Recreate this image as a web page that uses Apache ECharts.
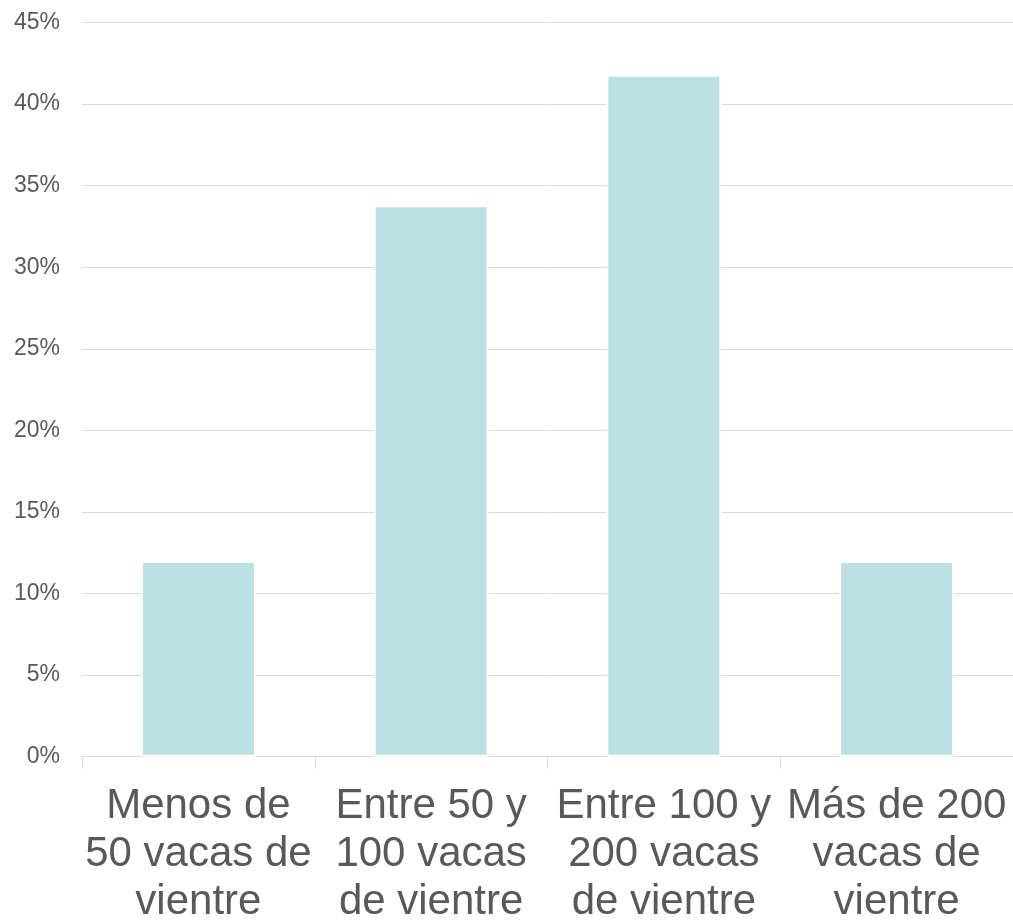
<!DOCTYPE html>
<html>
<head>
<meta charset="utf-8">
<script src="https://cdn.jsdelivr.net/npm/echarts@6/dist/echarts.min.js"></script>
<style>
html,body{margin:0;padding:0;background:#fff;}
#chart{width:1013px;height:921px;}
</style>
</head>
<body>
<div id="chart"></div>
<script>
const categories = [
  "Menos de\n50 vacas de\nvientre",
  "Entre 50 y\n100 vacas\nde vientre",
  "Entre 100 y\n200 vacas\nde vientre",
  "Más de 200\nvacas de\nvientre"
];
const values = [12.0, 33.8, 41.8, 12.0];
const yTicks = { min: 0, max: 45, interval: 5 };

const chart = echarts.init(document.getElementById('chart'), null, { renderer: 'canvas' });
chart.setOption({
  animation: false,
  textStyle: { fontFamily: '"Liberation Sans", Arial, sans-serif' },
  grid: { left: 82, right: 0, top: 22.5, bottom: 164.3, containLabel: false, outerBoundsMode: 'none' },
  xAxis: {
    type: 'category',
    data: categories,
    axisLine: { show: true, lineStyle: { color: '#D9D9D9', width: 1 } },
    axisTick: { show: true, length: 12, lineStyle: { color: '#D9D9D9', width: 1 } },
    axisLabel: {
      interval: 0,
      margin: 26,
      color: '#595959',
      fontSize: 42,
      lineHeight: 48,
      fontFamily: '"Liberation Sans", Arial, sans-serif',
      align: 'center'
    },
    splitLine: { show: false }
  },
  yAxis: {
    type: 'value',
    min: yTicks.min,
    max: yTicks.max,
    interval: yTicks.interval,
    axisLine: { show: false },
    axisTick: { show: false },
    axisLabel: {
      formatter: '{value}%',
      color: '#595959',
      fontSize: 23,
      margin: 22,
      fontFamily: '"Liberation Sans", Arial, sans-serif'
    },
    splitLine: { show: true, lineStyle: { color: '#D9D9D9', width: 1 } }
  },
  series: [{
    type: 'bar',
    data: values,
    barWidth: 115,
    itemStyle: { color: '#BBE0E3', borderColor: '#FFFFFF', borderWidth: 2 }
  }]
});
</script>
</body>
</html>
